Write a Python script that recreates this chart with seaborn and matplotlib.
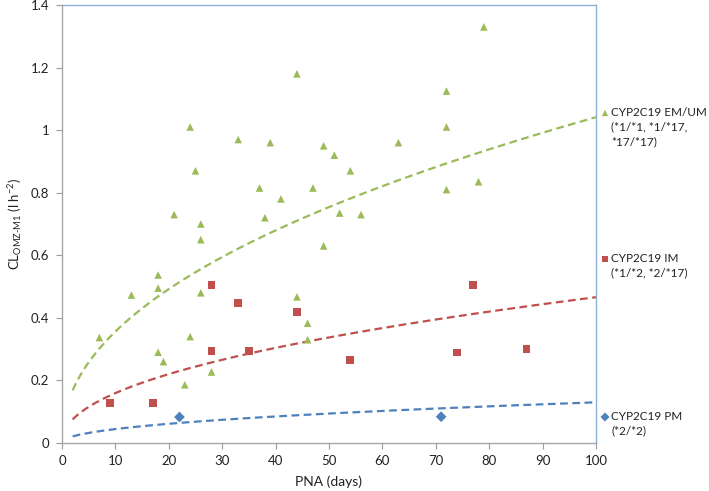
import matplotlib
matplotlib.use("Agg")
import matplotlib.pyplot as plt
import numpy as np
import pandas as pd
import seaborn as sns

# observed clearance per genotype group (PNA in days, CL in l/h)
em_days = [7, 13, 18, 18, 18, 19, 21, 23, 24, 24, 25, 26, 26, 26, 28, 33, 37, 38, 39, 41,
           44, 44, 46, 46, 47, 49, 49, 51, 52, 54, 56, 63, 72, 72, 72, 78, 79]
em_cl = [0.337, 0.473, 0.537, 0.495, 0.29, 0.26, 0.73, 0.186, 1.01, 0.34, 0.87, 0.70, 0.65,
         0.48, 0.227, 0.97, 0.815, 0.72, 0.96, 0.78, 1.18, 0.467, 0.383, 0.33, 0.815, 0.95,
         0.63, 0.92, 0.735, 0.87, 0.73, 0.96, 1.125, 1.01, 0.81, 0.835, 1.33]
im_days = [9, 17, 28, 28, 33, 35, 44, 54, 74, 77, 87]
im_cl = [0.127, 0.128, 0.505, 0.294, 0.447, 0.294, 0.42, 0.265, 0.289, 0.504, 0.30]
pm_days = [22, 71]
pm_cl = [0.083, 0.084]

# model typical curves: CL = coef * PNA ** exponent
model_coef = [0.1218, 0.0545, 0.0152]
model_exponent = 0.466
model_pna_range = (2, 100)

groups = ["EM/UM", "IM", "PM"]
legend_labels = [
    "CYP2C19 EM/UM\n(*1/*1, *1/*17,\n*17/*17)",
    "CYP2C19 IM\n(*1/*2, *2/*17)",
    "CYP2C19 PM\n(*2/*2)",
]
colors = {"EM/UM": "#9BBB59", "IM": "#C0504D", "PM": "#4F81BD"}
markers = {"EM/UM": "^", "IM": "s", "PM": "D"}
sizes = {"EM/UM": 30, "IM": 32, "PM": 30}

obs = pd.concat([
    pd.DataFrame({"PNA": em_days, "CL": em_cl, "group": "EM/UM"}),
    pd.DataFrame({"PNA": im_days, "CL": im_cl, "group": "IM"}),
    pd.DataFrame({"PNA": pm_days, "CL": pm_cl, "group": "PM"}),
])

pna_grid = np.linspace(model_pna_range[0], model_pna_range[1], 200)
curves = pd.concat([
    pd.DataFrame({"PNA": pna_grid, "CL": c * pna_grid ** model_exponent, "group": g})
    for g, c in zip(groups, model_coef)
])

sns.set_theme(style="white")
plt.rcParams["font.family"] = ["Lato", "DejaVu Sans"]
plt.rcParams["mathtext.default"] = "regular"

fig = plt.figure(figsize=(7.09, 4.91), dpi=100)
ax = fig.add_axes([0.0874, 0.0978, 0.7532, 0.892])

for g in groups:
    sns.lineplot(data=curves[curves["group"] == g], x="PNA", y="CL", ax=ax,
                 color=colors[g], linewidth=1.6, legend=False)
for ln in ax.lines:
    ln.set_dashes((3.5, 2))

for g in groups[::-1]:
    sns.scatterplot(data=obs[obs["group"] == g], x="PNA", y="CL", ax=ax,
                    color=colors[g], marker=markers[g], s=sizes[g],
                    edgecolor="none", legend=False, zorder=3)

ax.set_xlim(0, 100)
ax.set_ylim(0, 1.4)
ax.set_xticks(range(0, 101, 10))
ax.set_yticks([0, 0.2, 0.4, 0.6, 0.8, 1.0, 1.2, 1.4])
ax.set_yticklabels(["0", "0.2", "0.4", "0.6", "0.8", "1", "1.2", "1.4"])
ax.tick_params(axis="both", which="major", direction="out", length=4, width=0.8,
               color="#9A9A9A", labelsize=9.5, labelcolor="#222222", pad=5,
               left=True, bottom=True)

for side in ["left", "bottom"]:
    ax.spines[side].set_color("#A6A6A6")
    ax.spines[side].set_linewidth(1.0)
for side in ["top", "right"]:
    ax.spines[side].set_color("#8DB0D8")
    ax.spines[side].set_linewidth(1.0)

ax.set_xlabel("PNA (days)", fontsize=10, color="#222222", labelpad=6)
ax.set_ylabel("CL$_{OMZ\u2010M1}$ (l h$^{\u22122}$)", fontsize=9.5, color="#222222", labelpad=5)

# legend on the right, aligned with curve ends
legend_y = [113, 259, 417]
for g, label, ypx in zip(groups, legend_labels, legend_y):
    yf = 1 - ypx / 491
    ax.scatter([605 / 709], [yf], transform=fig.transFigure, clip_on=False,
               marker=markers[g], s=sizes[g] * 0.7, color=colors[g], edgecolor="none")
    fig.text(611 / 709, yf + 0.013, label, ha="left", va="top", fontsize=8.5,
             color="#222222", linespacing=1.4)

fig.savefig("out.png", dpi=100)
